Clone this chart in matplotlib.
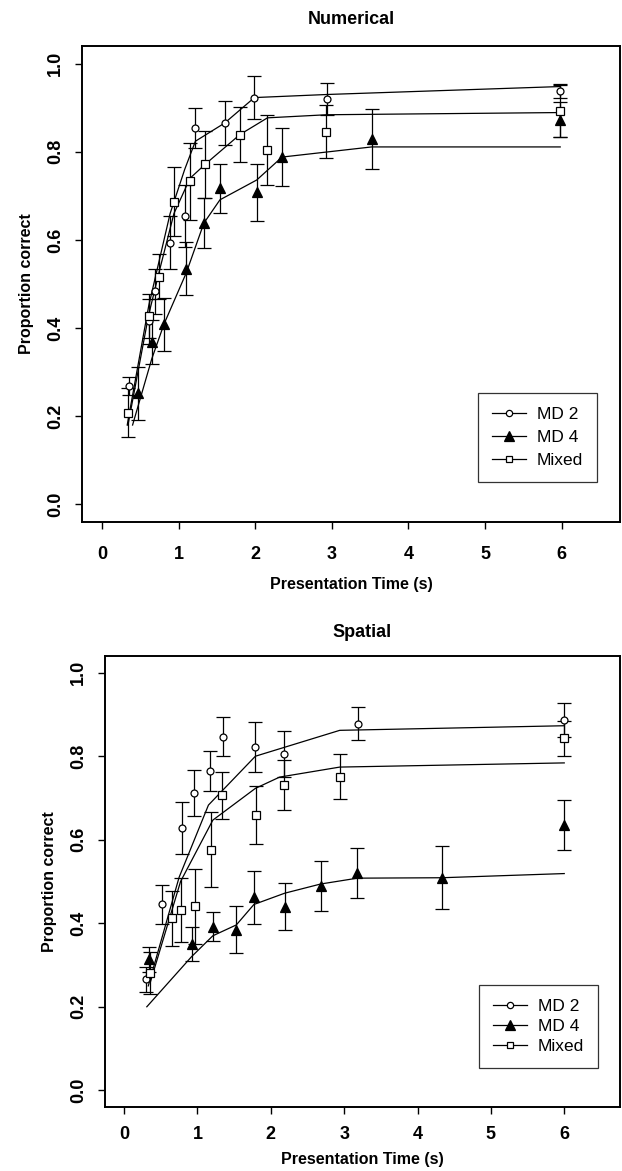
import matplotlib
matplotlib.use('Agg')
from matplotlib import pyplot as plt
from matplotlib.lines import Line2D

plt.rcParams['font.family'] = ['Liberation Sans', 'DejaVu Sans']

# ---- Numerical: observed data (time in s, proportion correct, error) ----
num_md2_t = [0.35, 0.61, 0.69, 0.89, 1.08, 1.22, 1.60, 1.99, 2.94, 5.98]
num_md2_p = [0.268, 0.415, 0.483, 0.594, 0.655, 0.854, 0.865, 0.923, 0.920, 0.937]
num_md2_se = [0.02, 0.05, 0.05, 0.06, 0.07, 0.045, 0.05, 0.048, 0.036, 0.015]

num_md4_t = [0.47, 0.65, 0.81, 1.10, 1.33, 1.54, 2.02, 2.35, 3.52, 5.98]
num_md4_p = [0.252, 0.368, 0.409, 0.535, 0.638, 0.717, 0.708, 0.788, 0.829, 0.873]
num_md4_se = [0.06, 0.05, 0.06, 0.06, 0.056, 0.055, 0.064, 0.065, 0.067, 0.04]

num_mix_t = [0.34, 0.61, 0.75, 0.94, 1.15, 1.35, 1.80, 2.16, 2.93, 5.98]
num_mix_p = [0.208, 0.427, 0.517, 0.687, 0.733, 0.772, 0.839, 0.804, 0.846, 0.893]
num_mix_se = [0.056, 0.05, 0.05, 0.078, 0.087, 0.076, 0.062, 0.08, 0.06, 0.06]

# model fits
num_md2_fit_t = [0.33, 0.61, 0.89, 1.08, 1.22, 1.60, 1.99, 2.94, 5.98]
num_md2_fit_p = [0.18, 0.45, 0.66, 0.76, 0.824, 0.865, 0.923, 0.93, 0.948]
num_md4_fit_t = [0.40, 0.65, 0.81, 1.10, 1.33, 1.54, 2.02, 2.35, 3.52, 5.98]
num_md4_fit_p = [0.18, 0.33, 0.409, 0.525, 0.638, 0.691, 0.736, 0.788, 0.811, 0.811]
num_mix_fit_t = [0.34, 0.61, 0.75, 0.94, 1.15, 1.35, 1.80, 2.16, 2.93, 5.98]
num_mix_fit_p = [0.18, 0.43, 0.53, 0.66, 0.74, 0.772, 0.839, 0.877, 0.884, 0.889]

# ---- Spatial ----
sp_md2_t = [0.30, 0.52, 0.79, 0.95, 1.17, 1.35, 1.78, 2.18, 3.19, 6.0]
sp_md2_p = [0.266, 0.445, 0.628, 0.711, 0.765, 0.847, 0.822, 0.806, 0.878, 0.887]
sp_md2_se = [0.03, 0.047, 0.062, 0.055, 0.048, 0.047, 0.06, 0.055, 0.039, 0.04]

sp_md4_t = [0.34, 0.92, 1.21, 1.53, 1.77, 2.19, 2.68, 3.18, 4.33, 6.0]
sp_md4_p = [0.314, 0.35, 0.392, 0.385, 0.462, 0.44, 0.489, 0.52, 0.509, 0.635]
sp_md4_se = [0.03, 0.04, 0.035, 0.056, 0.063, 0.056, 0.06, 0.06, 0.076, 0.06]

sp_mix_t = [0.36, 0.65, 0.77, 0.96, 1.19, 1.34, 1.80, 2.18, 2.94, 6.0]
sp_mix_p = [0.28, 0.412, 0.432, 0.441, 0.576, 0.706, 0.659, 0.731, 0.751, 0.843]
sp_mix_se = [0.05, 0.066, 0.076, 0.09, 0.09, 0.056, 0.07, 0.06, 0.054, 0.042]

sp_md2_fit_t = [0.33, 0.75, 1.15, 1.79, 2.94, 6.0]
sp_md2_fit_p = [0.25, 0.51, 0.683, 0.80, 0.862, 0.873]
sp_md4_fit_t = [0.31, 0.92, 1.21, 1.53, 1.77, 2.19, 2.68, 3.18, 4.33, 6.0]
sp_md4_fit_p = [0.20, 0.32, 0.37, 0.396, 0.445, 0.472, 0.494, 0.508, 0.509, 0.519]
sp_mix_fit_t = [0.36, 0.77, 1.21, 1.79, 2.12, 2.94, 6.0]
sp_mix_fit_p = [0.26, 0.50, 0.647, 0.723, 0.75, 0.774, 0.784]

labels = ['MD 2', 'MD 4', 'Mixed']
yticks = [0.0, 0.2, 0.4, 0.6, 0.8, 1.0]
xticks = [0, 1, 2, 3, 4, 5, 6]

# marker styles for MD 2, MD 4, Mixed
styles = [dict(marker='o', ms=5, mfc='white', mec='black', mew=0.9),
          dict(marker='^', ms=7, mfc='black', mec='black', mew=0.9),
          dict(marker='s', ms=5.5, mfc='white', mec='black', mew=0.9)]

fig = plt.figure(dpi=100, figsize=(6.22, 11.71))
ax1 = fig.add_axes([82 / 622, 1 - 522 / 1171, 538 / 622, 476 / 1171])
ax2 = fig.add_axes([105 / 622, 1 - 1107 / 1171, 515 / 622, 451 / 1171])

# axes, title, series, legend corner, legend spacing, x pads
panels = [
    (ax1, 'Numerical',
     [(num_md2_t, num_md2_p, num_md2_se, num_md2_fit_t, num_md2_fit_p),
      (num_md4_t, num_md4_p, num_md4_se, num_md4_fit_t, num_md4_fit_p),
      (num_mix_t, num_mix_p, num_mix_se, num_mix_fit_t, num_mix_fit_p)],
     (0.957, 0.084), 0.45, 12, 10, 16),
    (ax2, 'Spatial',
     [(sp_md2_t, sp_md2_p, sp_md2_se, sp_md2_fit_t, sp_md2_fit_p),
      (sp_md4_t, sp_md4_p, sp_md4_se, sp_md4_fit_t, sp_md4_fit_p),
      (sp_mix_t, sp_mix_p, sp_mix_se, sp_mix_fit_t, sp_mix_fit_p)],
     (0.957, 0.087), 0.28, 9, 6, 14),
]

for ax, title, series, legpos, lspace, xpad, xlpad, tpad in panels:
    for (t, p, se, ft, fp), st in zip(series, styles):
        # fitted curve
        ax.plot(ft, fp, color='black', linewidth=0.9, zorder=2)
        # error bars
        ax.errorbar(t, p, yerr=se, fmt='none', ecolor='black',
                    elinewidth=0.9, capsize=5, capthick=0.9, zorder=3)
        # observed points
        ax.plot(t, p, linestyle='none', zorder=4, **st)

    ax.set_xlim(-0.26, 6.76)
    ax.set_ylim(-0.04, 1.04)
    ax.set_xticks(xticks)
    ax.set_yticks(yticks)
    ax.set_yticklabels(['%.1f' % v for v in yticks], rotation=90, va='center')
    ax.tick_params(direction='out', length=5, width=1, labelsize=13)
    ax.tick_params(axis='x', pad=xpad)
    ax.tick_params(axis='y', pad=8)
    for lab in ax.get_xticklabels() + ax.get_yticklabels():
        lab.set_fontweight('bold')
    for sp in ax.spines.values():
        sp.set_linewidth(1.4)
    ax.set_title(title, fontsize=13, fontweight='bold', pad=tpad)
    ax.set_xlabel('Presentation Time (s)', fontsize=11.5, fontweight='bold',
                  labelpad=xlpad)
    ax.set_ylabel('Proportion correct', fontsize=11.5, fontweight='bold',
                  labelpad=9)

    handles = [Line2D([0], [0], color='black', linewidth=0.9, **st)
               for st in styles]
    handles[0].set_markersize(4.5)
    handles[2].set_markersize(4.5)
    leg = ax.legend(handles, labels, loc='lower right', bbox_to_anchor=legpos,
                    fontsize=12.5, frameon=True, fancybox=False,
                    edgecolor='#333333', framealpha=1, handlelength=2.0,
                    labelspacing=lspace, borderpad=0.8, handletextpad=0.6,
                    borderaxespad=0)
    leg.get_frame().set_linewidth(0.9)

plt.savefig('out.png', dpi=100)
